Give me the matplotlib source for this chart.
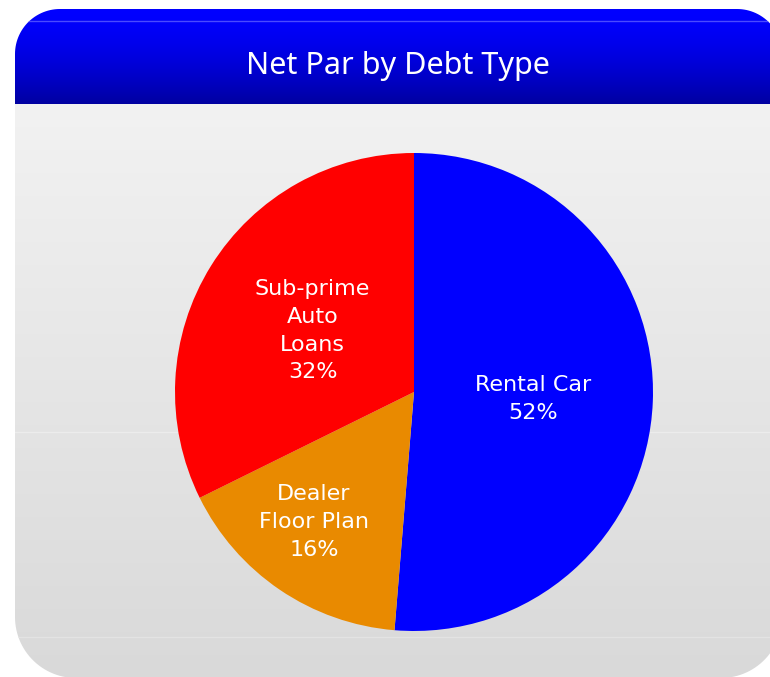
import numpy as np
import matplotlib
matplotlib.use("Agg")
import matplotlib.pyplot as plt
from matplotlib.path import Path
from matplotlib.patches import PathPatch

# ---- data ----
categories = ["Rental Car", "Dealer\nFloor Plan", "Sub-prime\nAuto\nLoans"]
shares = [51.3, 16.4, 32.3]
pct_labels = ["52%", "16%", "32%"]
colors = ["#0000ff", "#e98a00", "#ff0000"]
title = "Net Par by Debt Type"

W, H = 770, 677
fig = plt.figure(figsize=(W / 100, H / 100), dpi=100)
fig.patch.set_facecolor("white")

# background axes in pixel coordinates (y down)
bg = fig.add_axes([0, 0, 1, 1])
bg.set_xlim(0, W)
bg.set_ylim(H, 0)
bg.axis("off")


def rounded_path(x0, y0, x1, y1, rt, rb):
    pts = []
    def arc(cx, cy, r, a0, a1):
        t = np.linspace(np.radians(a0), np.radians(a1), 30)
        return list(zip(cx + r * np.cos(t), cy + r * np.sin(t)))
    pts += arc(x0 + rt, y0 + rt, rt, 180, 270)      # top-left
    pts += arc(x1 - rt, y0 + rt, rt, 270, 360)      # top-right
    pts += arc(x1 - rb, y1 - rb, rb, 0, 90)         # bottom-right
    pts += arc(x0 + rb, y1 - rb, rb, 90, 180)       # bottom-left
    pts.append(pts[0])
    codes = [Path.MOVETO] + [Path.LINETO] * (len(pts) - 2) + [Path.CLOSEPOLY]
    return Path(pts, codes)


card = rounded_path(15, 9, 782, 678, 45, 61)
patch = PathPatch(card, facecolor="none", edgecolor="none")
bg.add_patch(patch)

# gradient image
ys = np.arange(H) + 0.5
img = np.ones((H, 1, 3))
head_top = np.array([0, 0, 255]) / 255
head_bot = np.array([0, 0, 160]) / 255
body_top = np.array([242, 242, 242]) / 255
body_bot = np.array([217, 217, 217]) / 255
hy0, hy1, by1 = 9, 104, 678
for i, y in enumerate(ys):
    if y < hy1:
        t = np.clip((y - hy0) / (hy1 - hy0), 0, 1)
        t = t ** 1.6
        img[i, 0] = head_top * (1 - t) + head_bot * t
    else:
        t = np.clip((y - hy1) / (by1 - hy1), 0, 1)
        img[i, 0] = body_top * (1 - t) + body_bot * t
im = bg.imshow(img, extent=[0, W, H, 0], aspect="auto", interpolation="nearest", zorder=1)
im.set_clip_path(patch)

# header highlight line and faint banding lines
for yl, col in [(20.5, "#4a4aff"), (431.5, "#ececec"), (636.5, "#e3e3e3")]:
    ln, = bg.plot([0, W], [yl, yl], color=col, lw=1.0, zorder=2)
    ln.set_clip_path(patch)

bg.text(398, 66, title, color="white", fontsize=22, ha="center", va="center",
        family=["Noto Sans", "DejaVu Sans"], zorder=3)

# pie axes
cx, cy, R = 414, 392, 239
ax = fig.add_axes([(cx - R) / W, (H - cy - R) / H, 2 * R / W, 2 * R / H])
wedges, _ = ax.pie(shares, colors=colors, startangle=90, counterclock=False,
                   wedgeprops=dict(linewidth=0))
ax.set_xlim(-1, 1)
ax.set_ylim(-1, 1)
ax.set_aspect("equal")
ax.axis("off")

label_dist = [0.5, 0.68, 0.5]
label_shift = [0, -3.8, 0]
for w, cat, pct, d, s in zip(wedges, categories, pct_labels, label_dist, label_shift):
    ang = np.radians((w.theta1 + w.theta2) / 2 + s)
    ax.text(d * np.cos(ang), d * np.sin(ang) - 0.008, cat + "\n" + pct, color="white",
            fontsize=16, ha="center", va="center", linespacing=1.48,
            family="DejaVu Sans")

fig.savefig("out.png", dpi=100, facecolor="white")
